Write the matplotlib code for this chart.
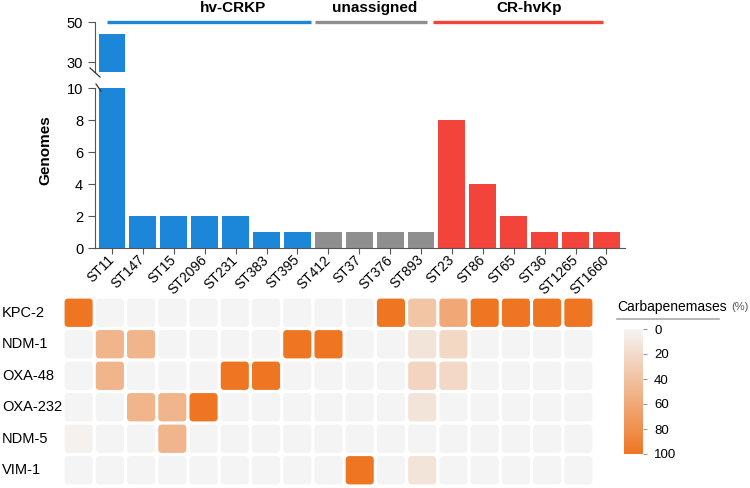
import matplotlib
matplotlib.use("Agg")
import matplotlib.pyplot as plt
import numpy as np
from matplotlib.colors import LinearSegmentedColormap, Normalize
from matplotlib.patches import FancyBboxPatch
from matplotlib.cm import ScalarMappable
from matplotlib.transforms import blended_transform_factory

plt.rcParams["font.family"] = ["Liberation Sans", "DejaVu Sans"]

# Sequence types and genome counts
sts = ["ST11", "ST147", "ST15", "ST2096", "ST231", "ST383", "ST395",
       "ST412", "ST37", "ST376", "ST893",
       "ST23", "ST86", "ST65", "ST36", "ST1265", "ST1660"]
genomes = [44, 2, 2, 2, 2, 1, 1, 1, 1, 1, 1, 8, 4, 2, 1, 1, 1]
groups = ["hv-CRKP"] * 7 + ["unassigned"] * 4 + ["CR-hvKp"] * 6

group_names = ["hv-CRKP", "unassigned", "CR-hvKp"]
group_colors = {"hv-CRKP": "#1c87d9", "unassigned": "#8f8f8f", "CR-hvKp": "#f2443b"}

# Carbapenemase share (%) per ST
genes = ["KPC-2", "NDM-1", "OXA-48", "OXA-232", "NDM-5", "VIM-1"]
kpc2 = [100, 0, 0, 0, 0, 0, 0, 0, 0, 0, 100, 37.5, 60, 100, 100, 100, 100]
ndm1 = [0, 50, 50, 0, 0, 0, 0, 100, 100, 0, 0, 12.5, 22, 0, 0, 0, 0]
oxa48 = [0, 50, 0, 0, 0, 100, 100, 0, 0, 0, 0, 25, 22, 0, 0, 0, 0]
oxa232 = [0, 0, 50, 50, 100, 0, 0, 0, 0, 0, 0, 12.5, 0, 0, 0, 0, 0]
ndm5 = [3, 0, 0, 50, 0, 0, 0, 0, 0, 0, 0, 0, 0, 0, 0, 0, 0]
vim1 = [0, 0, 0, 0, 0, 0, 0, 0, 0, 100, 0, 12.5, 0, 0, 0, 0, 0]

SPINE = "#555555"
W, H = 750, 488

fig = plt.figure(figsize=(7.5, 4.88), dpi=100)


def fx(px):
    return px / W


def fy(px):
    return 1 - px / H


x = np.arange(len(sts))
bar_colors = [group_colors[g] for g in groups]
xlim = (-0.55, 16.6)

# ---- bar chart, broken y axis ----
ax_lo = fig.add_axes([fx(95), fy(248), fx(625) - fx(95), fy(88) - fy(248)])
ax_hi = fig.add_axes([fx(95), fy(72), fx(625) - fx(95), fy(22) - fy(72)])

for ax in (ax_lo, ax_hi):
    ax.bar(x, genomes, width=0.87, color=bar_colors)
    ax.set_xlim(*xlim)
    ax.spines["top"].set_visible(False)
    ax.spines["right"].set_visible(False)
    ax.spines["left"].set_color(SPINE)
    ax.spines["bottom"].set_color(SPINE)
    ax.tick_params(colors=SPINE, labelcolor="black", labelsize=10.5, length=5)

ax_lo.set_ylim(0, 10)
ax_lo.set_yticks([0, 2, 4, 6, 8, 10])
ax_lo.set_xticks(x)
ax_lo.set_xticklabels(sts, rotation=45, ha="right", va="center",
                      rotation_mode="anchor", fontsize=10)
ax_lo.tick_params(axis="x", length=4, pad=3)

ax_hi.set_ylim(25, 50)
ax_hi.set_yticks([30, 50])
ax_hi.spines["bottom"].set_visible(False)
ax_hi.set_xticks([])

# break marks
kw = dict(color="#333333", lw=0.9, clip_on=False, transform=fig.transFigure)
fig.add_artist(plt.Line2D([fx(90), fx(100)], [fy(68), fy(77)], **kw))
fig.add_artist(plt.Line2D([fx(96), fx(101)], [fy(84), fy(91)], **kw))

fig.text(fx(45), fy(150), "Genomes", rotation=90, ha="center", va="center",
         fontsize=11, fontweight="bold")

# group lines and labels above the bars
pads = {"hv-CRKP": (-0.16, 0.45), "unassigned": (-0.42, 0.2), "CR-hvKp": (-0.6, -0.1)}
text_shift = {"hv-CRKP": 0.9, "unassigned": 0.0, "CR-hvKp": 0.0}
for g in group_names:
    idx = [i for i, gg in enumerate(groups) if gg == g]
    x0, x1 = idx[0] + pads[g][0], idx[-1] + pads[g][1]
    ax_hi.plot([x0, x1], [50, 50], color=group_colors[g], lw=2.4,
               clip_on=False, solid_capstyle="butt")
    ax_hi.text((idx[0] + idx[-1]) / 2 + text_shift[g], 57, g, ha="center",
               va="center", fontsize=11, fontweight="bold", clip_on=False)

# ---- heatmap ----
data = np.array([kpc2, ndm1, oxa48, oxa232, ndm5, vim1], dtype=float)
cmap = LinearSegmentedColormap.from_list("carb", ["#f4f4f4", "#ee7623"])
norm = Normalize(0, 100)

ax_hm = fig.add_axes([fx(63), fy(486), fx(594) - fx(63), fy(297) - fy(486)])
ax_hm.set_xlim(0, len(sts))
ax_hm.set_ylim(len(genes), 0)
ax_hm.axis("off")
size = 0.9
for r in range(len(genes)):
    for c in range(len(sts)):
        ax_hm.add_patch(FancyBboxPatch(
            (c + (1 - size) / 2, r + (1 - size) / 2), size, size,
            boxstyle="round,pad=0,rounding_size=0.12",
            facecolor=cmap(norm(data[r, c])), edgecolor="none"))

# row labels sit at the left edge of the figure
trans = blended_transform_factory(fig.transFigure, ax_hm.transData)
for r, g in enumerate(genes):
    ax_hm.text(fx(2), r + 0.5, g, transform=trans, ha="left", va="center",
               fontsize=10.5)

# ---- colorbar ----
cax = fig.add_axes([fx(624), fy(454), fx(643) - fx(624), fy(329) - fy(454)])
cb = fig.colorbar(ScalarMappable(norm=norm, cmap=cmap), cax=cax,
                  ticks=[0, 20, 40, 60, 80, 100])
cb.outline.set_visible(False)
cax.invert_yaxis()
cax.tick_params(length=3, width=0.8, color="#999999", labelsize=9.5, pad=5)

title = fig.text(fx(617), fy(307), "Carbapenemases", ha="left", va="center",
                 fontsize=10)
fig.add_artist(plt.Annotation("(%)", xy=(1, 0.5), xycoords=title,
                              xytext=(3, 0), textcoords="offset points",
                              ha="left", va="center", fontsize=8,
                              color="#555555"))
fig.add_artist(plt.Line2D([fx(617), fx(719)], [fy(319), fy(319)],
                          color="#aaaaaa", lw=1.2, transform=fig.transFigure))

fig.savefig("out.png", dpi=100)
